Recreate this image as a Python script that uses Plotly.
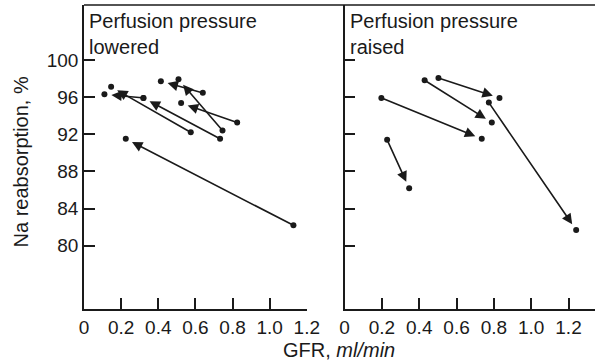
import plotly.graph_objects as go

# ---- data (GFR ml/min, Na reabsorption %) ----
# Left panel: perfusion pressure lowered (arrows: start -> end)
low_start_gfr = [1.128, 0.733, 0.575, 0.32, 0.64, 0.746, 0.825]
low_start_na = [82.2, 91.5, 92.2, 95.9, 96.45, 92.4, 93.25]
low_end_gfr = [0.225, 0.32, 0.146, 0.11, 0.414, 0.509, 0.523]
low_end_na = [91.5, 95.9, 97.1, 96.3, 97.7, 97.9, 95.35]

# Right panel: perfusion pressure raised
high_start_gfr = [0.197, 0.429, 0.503, 0.773, 0.228]
high_start_na = [95.9, 97.8, 98.05, 95.4, 91.4]
high_end_gfr = [0.735, 0.789, 0.83, 1.241, 0.346]
high_end_na = [91.5, 93.25, 95.9, 81.7, 86.2]

x_tickvals = [0, 0.2, 0.4, 0.6, 0.8, 1.0, 1.2]
x_ticktext = ["0", "0.2", "0.4", "0.6", "0.8", "1.0", "1.2"]
y_tickvals = [80, 84, 88, 92, 96, 100]

panel_titles = ["Perfusion pressure<br>lowered", "Perfusion pressure<br>raised"]
x_title = "GFR, <i>ml/min</i>"
y_title = "Na reabsorption, %"

FONT = "Liberation Sans, Arial, sans-serif"
INK = "#1a1a1a"

fig = go.Figure()

panels = [
    ("x", "y", low_start_gfr, low_start_na, low_end_gfr, low_end_na),
    ("x2", "y2", high_start_gfr, high_start_na, high_end_gfr, high_end_na),
]

annotations = []
for xr, yr, sx, sy, ex, ey in panels:
    fig.add_trace(go.Scatter(
        x=sx + ex, y=sy + ey, mode="markers",
        marker=dict(color=INK, size=6),
        xaxis=xr, yaxis=yr, showlegend=False, hoverinfo="skip"))
    for x0, y0, x1, y1 in zip(sx, sy, ex, ey):
        annotations.append(dict(
            x=x1, y=y1, ax=x0, ay=y0,
            xref=xr, yref=yr, axref=xr, ayref=yr,
            showarrow=True, arrowhead=2, arrowsize=1.3, arrowwidth=1.6,
            arrowcolor=INK, standoff=7, startstandoff=0, text=""))

for i, t in enumerate(panel_titles):
    xr = "x" if i == 0 else "x2"
    yr = "y" if i == 0 else "y2"
    annotations.append(dict(
        text=t, xref=xr + " domain", yref=yr + " domain", x=0, y=1,
        xanchor="left", yanchor="top", xshift=3, yshift=-3,
        showarrow=False, align="left",
        font=dict(family=FONT, size=20, color=INK)))

annotations.append(dict(
    text=x_title, xref="paper", yref="paper", x=0.499, y=-0.135,
    xanchor="center", yanchor="middle", showarrow=False,
    font=dict(family=FONT, size=20, color=INK)))
annotations.append(dict(
    text=y_title, xref="paper", yref="paper", x=-0.1224, y=0.4836,
    xanchor="center", yanchor="middle", textangle=-90, showarrow=False,
    font=dict(family=FONT, size=20, color=INK)))

axis_common = dict(
    showgrid=False, zeroline=False, showline=True, linecolor=INK, linewidth=1.5,
    ticks="inside", ticklen=11, tickwidth=1.5, tickcolor=INK,
    tickfont=dict(family=FONT, size=19, color=INK))

fig.update_layout(
    width=613, height=363,
    margin=dict(l=84, r=6, t=5, b=54),
    paper_bgcolor="white", plot_bgcolor="white",
    showlegend=False,
    xaxis=dict(domain=[0, 0.436], range=[0, 1.2], tickvals=x_tickvals,
               ticktext=x_ticktext, anchor="y", **axis_common),
    xaxis2=dict(domain=[0.51, 1], range=[0, 1.342], tickvals=x_tickvals,
                ticktext=x_ticktext, anchor="y2", **axis_common),
    yaxis=dict(domain=[0, 1], range=[73.2, 105.9], tickvals=y_tickvals,
               anchor="x", **axis_common),
    yaxis2=dict(domain=[0, 1], range=[73.2, 105.9], tickvals=y_tickvals,
                anchor="x2", showticklabels=False, **axis_common),
    annotations=annotations,
    shapes=[dict(type="line", xref="paper", yref="paper", x0=0, x1=1, y0=1, y1=1,
                 line=dict(color=INK, width=1.5))],
)

fig.write_html(
    "out.html",
    config={"responsive": False, "displayModeBar": False},
    post_script="document.body.style.margin='0';document.body.style.overflow='hidden';",
)
